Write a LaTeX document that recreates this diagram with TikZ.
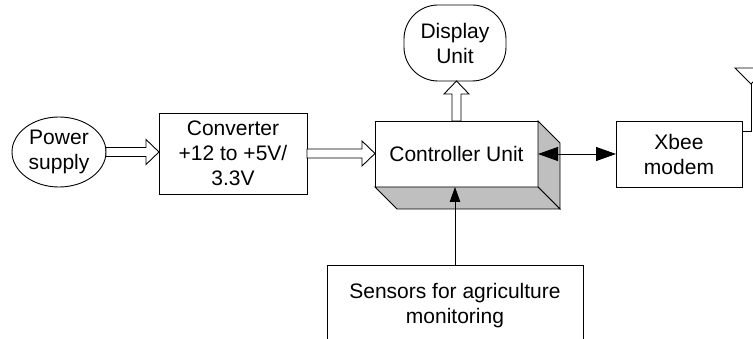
\documentclass[tikz,border=0pt]{standalone}
\usepackage{fontspec}
\setmainfont{Liberation Sans}
\usetikzlibrary{shapes.geometric,arrows.meta,calc}

\begin{document}
\begin{tikzpicture}[x=1pt,y=-1pt,line width=0.9pt,
  every node/.style={font=\fontsize{21}{25}\selectfont,align=center,inner sep=0pt,outer sep=0pt},
  blk/.style={shape=rectangle,draw=black,fill=white},
  fatarrow/.style={draw=black,fill=white,to path={let \p1=($(\tikztotarget)!13pt!(\tikztostart)$) in
    ($(\tikztostart)!4.5pt!90:(\tikztotarget)$) -- ($(\p1)!4.5pt!90:(\tikztotarget)$)
    -- ($(\p1)!12.5pt!90:(\tikztotarget)$) -- (\tikztotarget)
    -- ($(\p1)!12.5pt!-90:(\tikztotarget)$) -- ($(\p1)!4.5pt!-90:(\tikztotarget)$)
    -- ($(\tikztostart)!4.5pt!-90:(\tikztotarget)$) -- cycle}},
  tip/.style={-{Triangle[length=#1,width=0.7*#1]}}]
  \path[use as bounding box,clip] (0,0) rectangle (753,339);

  \node[shape=ellipse,draw=black,minimum width=94pt,minimum height=70pt] (ps) at (59,152) {Power\\supply};
  \node[blk,minimum width=148pt,minimum height=81pt] (conv) at (233,153.5) {Converter\\+12 to +5V/\\3.3V};
  \node[blk,minimum width=163pt,minimum height=66pt] (ctrl) at (456.5,154) {Controller Unit};
  \node[draw=black,rounded corners=34pt,minimum width=102pt,minimum height=76pt] (disp) at (455,43) {Display\\Unit};
  \node[blk,minimum width=126pt,minimum height=66pt] (xbee) at (679,154) {Xbee\\modem};
  \node[blk,minimum width=256pt,minimum height=82pt] (sens) at (455,306) {Sensors for agriculture\\monitoring};
  \coordinate (ant) at (751,84);

  % 3d sides of the controller
  \draw[fill=black!25] (ctrl.north east) -- ($(ctrl.north east)+(22,22)$) -- ($(ctrl.south east)+(22,22)$) -- (ctrl.south east) -- cycle;
  \draw[fill=black!25] (ctrl.south west) -- ($(ctrl.south west)+(22,22)$) -- ($(ctrl.south east)+(22,22)$) -- (ctrl.south east) -- cycle;

  \draw[fatarrow] (ps.east) to (ps.east -| conv.west);
  \draw[fatarrow] (conv.east) to (conv.east -| ctrl.west);
  \draw[fatarrow] (ctrl.north) to (ctrl.north |- disp.south);

  \draw[{Triangle[length=20pt,width=14pt]}-{Triangle[length=20pt,width=14pt]}] (ctrl.east) -- (xbee.west);
  \draw[tip=15pt] (sens.north) -- (sens.north |- ctrl.south);

  % antenna
  \draw ($(xbee.north east)+(0,10)$) -| (ant);
  \draw (ant) -- ++(-16,-16) -- ++(32,0) -- cycle;
\end{tikzpicture}
\end{document}
